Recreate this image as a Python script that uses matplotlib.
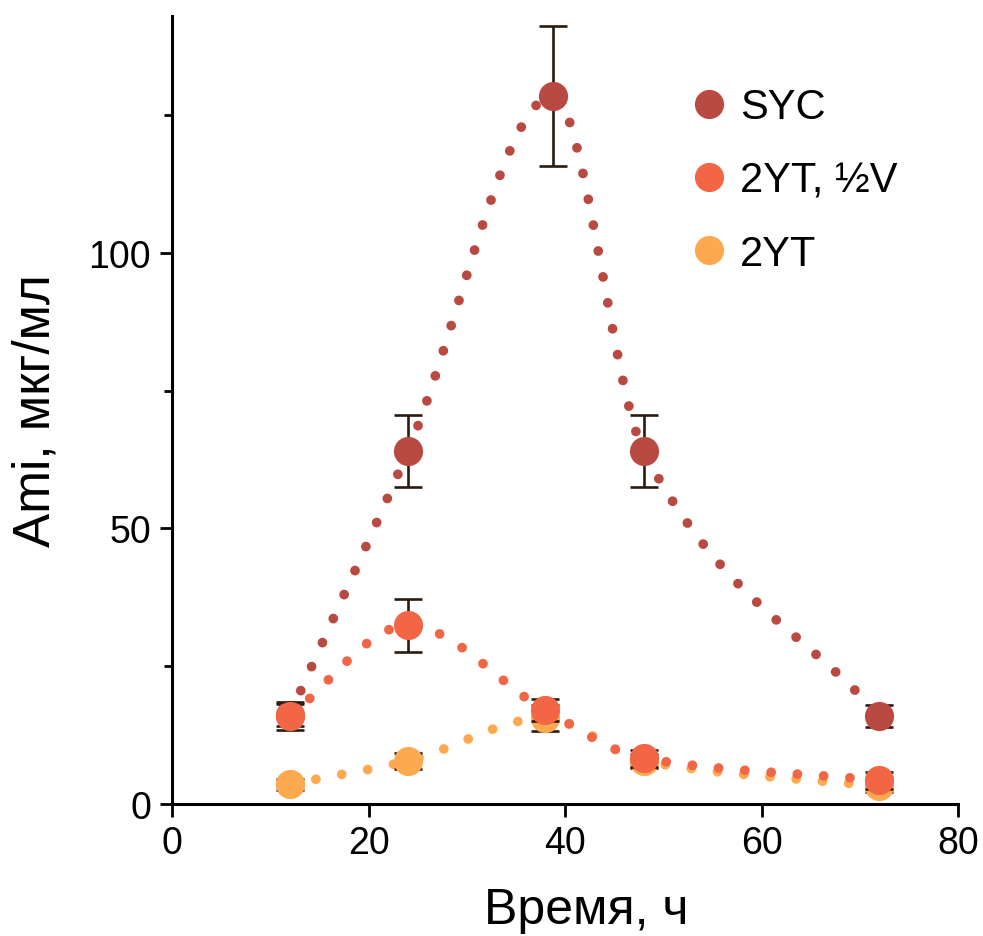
import numpy as np
import matplotlib
matplotlib.use('Agg')
import matplotlib.pyplot as plt
from matplotlib.ticker import MultipleLocator

plt.rcParams['font.family'] = ['Liberation Sans', 'DejaVu Sans']

# values
hours = [12, 24, 38.8, 48, 72]
hours_b = [12, 24, 38, 48, 72]

syc = [16.2, 64.0, 128.5, 64.0, 16.0]
syc_err = [2.0, 6.5, 12.7, 6.5, 2.0]

half_v = [16.0, 32.4, 17.0, 8.3, 4.3]
half_v_err = [2.5, 4.8, 2.0, 1.5, 1.5]

yt2 = [3.6, 7.8, 15.6, 7.8, 3.2]
yt2_err = [1.0, 1.5, 2.3, 1.3, 1.0]

labels = ['SYC', '2YT, ½V', '2YT']
colors = ['#B94A42', '#F26645', '#FDA94F']
err_color = '#2B1A0E'


def smooth(x, y, n=200):
    # monotone cubic hermite through the points, only for the dotted connector
    x = np.asarray(x, float)
    y = np.asarray(y, float)
    h = np.diff(x)
    d = np.diff(y) / h
    m = np.zeros_like(y)
    for i in range(1, len(x) - 1):
        if d[i - 1] * d[i] > 0:
            w1 = 2 * h[i] + h[i - 1]
            w2 = h[i] + 2 * h[i - 1]
            m[i] = (w1 + w2) / (w1 / d[i - 1] + w2 / d[i])
    m[0] = d[0]
    m[-1] = d[-1]
    xs = np.linspace(x[0], x[-1], n)
    idx = np.clip(np.searchsorted(x, xs) - 1, 0, len(x) - 2)
    t = (xs - x[idx]) / h[idx]
    h00 = 2 * t**3 - 3 * t**2 + 1
    h10 = t**3 - 2 * t**2 + t
    h01 = -2 * t**3 + 3 * t**2
    h11 = t**3 - t**2
    ys = (h00 * y[idx] + h10 * h[idx] * m[idx]
          + h01 * y[idx + 1] + h11 * h[idx] * m[idx + 1])
    return xs, ys


fig = plt.figure(figsize=(9.83, 9.37), dpi=100)
ax = fig.add_axes([0.175, 0.1409, 0.7996, 0.841])

series = [
    (hours, syc, syc_err),
    (hours_b, yt2, yt2_err),
    (hours_b, half_v, half_v_err),
]
order = [0, 2, 1]
for k, (xv, yv, ev) in enumerate(series):
    c = colors[order[k]]
    xs, ys = smooth(xv, yv)
    ax.plot(xs, ys, color=c, lw=7.0, linestyle=(0, (0.01, 2.7)),
            dash_capstyle='round', zorder=2 + k)
    ax.errorbar(xv, yv, yerr=ev, fmt='none', ecolor=err_color,
                elinewidth=1.9, capsize=10, capthick=1.9, zorder=5 + k * 2,
                clip_on=False)
    ax.plot(xv, yv, 'o', color=c, ms=21, mec='none', zorder=6 + k * 2,
            clip_on=False, label=labels[order[k]])

handles, labs = ax.get_legend_handles_labels()
hmap = dict(zip(labs, handles))
ax.legend([hmap[l] for l in labels], labels, loc='upper left',
          bbox_to_anchor=(0.622, 0.957), frameon=False, fontsize=30,
          handlelength=0.5, handletextpad=0.5, labelspacing=0.8,
          markerscale=1.0, numpoints=1)

ax.set_xlim(0, 80)
ax.set_ylim(0, 143)
ax.xaxis.set_major_locator(MultipleLocator(20))
ax.yaxis.set_major_locator(MultipleLocator(50))
ax.yaxis.set_minor_locator(MultipleLocator(25))

for s in ['top', 'right']:
    ax.spines[s].set_visible(False)
for s in ['left', 'bottom']:
    ax.spines[s].set_linewidth(2.2)

ax.tick_params(axis='both', which='major', direction='out', length=9,
               width=2, labelsize=27, pad=6)
ax.tick_params(axis='y', which='minor', direction='out', length=6, width=2)

ax.set_xlabel('Время, ч', fontsize=36, labelpad=20)
ax.xaxis.set_label_coords(0.527, -0.105)
ax.set_ylabel('Ami, мкг/мл', fontsize=37, labelpad=20)

fig.savefig('out.png', dpi=100)
plt.close(fig)
